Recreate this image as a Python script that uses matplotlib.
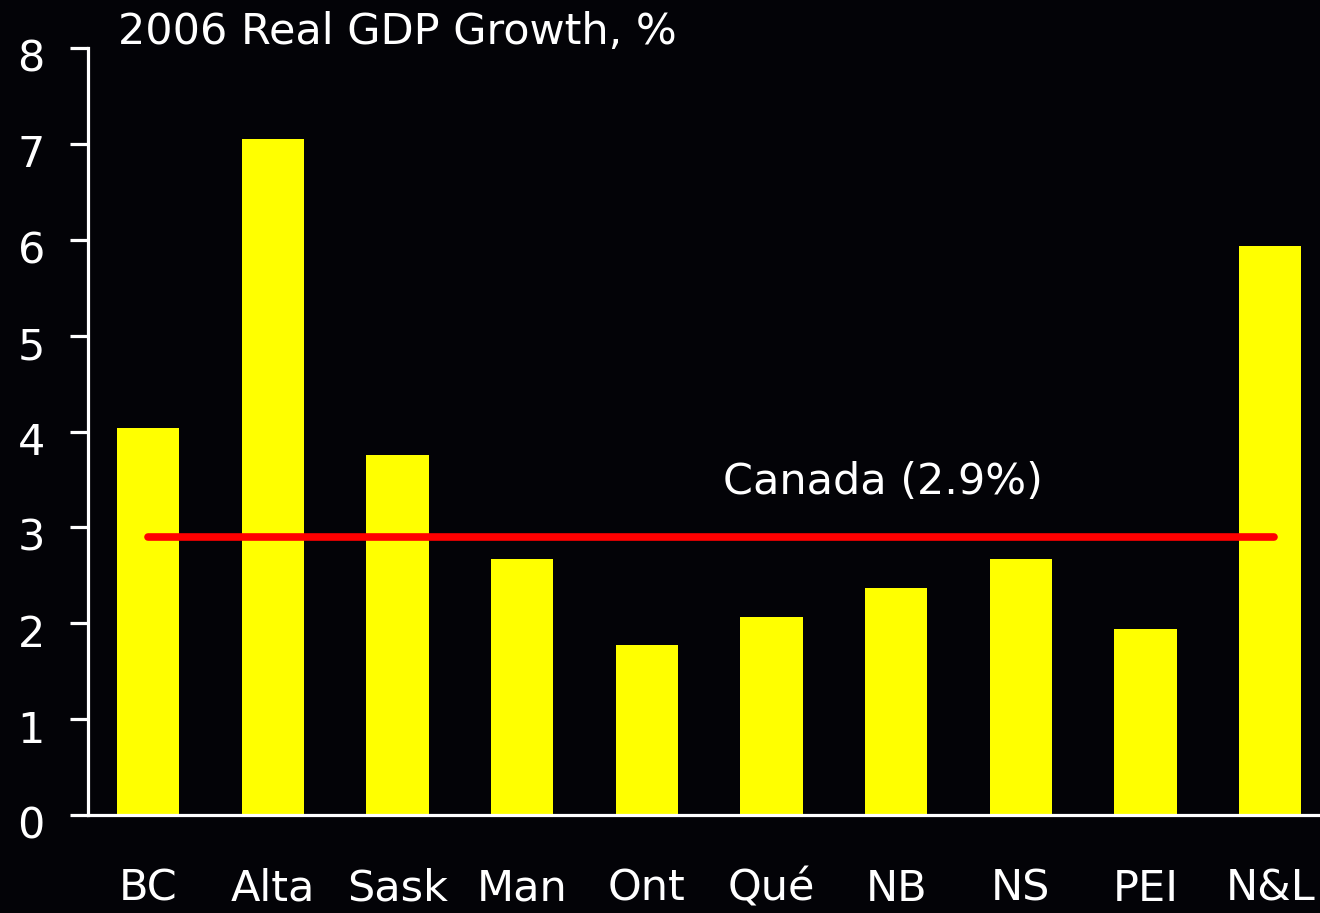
import numpy as np
import matplotlib.pyplot as plt
import matplotlib.transforms as mtransforms

# province labels and 2006 real GDP growth (%)
provinces = ['BC', 'Alta', 'Sask', 'Man', 'Ont', 'Qué', 'NB', 'NS', 'PEI', 'N&L']
growth = [4.04, 7.05, 3.75, 2.67, 1.77, 2.07, 2.37, 2.67, 1.94, 5.94]
canada = 2.9
yticks = [0, 1, 2, 3, 4, 5, 6, 7, 8]

bg = '#030307'
plt.rcParams['font.family'] = ['DejaVu Sans']

fig = plt.figure(figsize=(13.2, 9.13), dpi=100, facecolor=bg)
ax = fig.add_axes([88/1320, 1-815/913, 1-88/1320, (815-48)/913])
ax.set_facecolor(bg)

x = np.arange(len(provinces))
ax.bar(x, growth, width=0.5, color='#ffff00', zorder=2)
ax.hlines(canada, 0, 9.03, color='#ff0000', linewidth=5.5, capstyle='round', zorder=3)
ax.text(4.61, 3.47, 'Canada (2.9%)', color='white', fontsize=31, ha='left', va='center')

ax.set_xlim(-0.484, 9.40)
ax.set_ylim(0, 8)
ax.set_xticks(x)
ax.set_xticklabels(provinces)
ax.set_yticks(yticks)

for s in ['top', 'right']:
    ax.spines[s].set_visible(False)
for s in ['left', 'bottom']:
    ax.spines[s].set_color('white')
    ax.spines[s].set_linewidth(2.3)

ax.tick_params(axis='y', colors='white', labelsize=31, length=13, width=2.3, pad=18)
ax.tick_params(axis='x', colors='white', labelsize=31, length=0, pad=38)

# nudge y labels slightly down like the original
off = mtransforms.ScaledTranslation(0, -7/100, fig.dpi_scale_trans)
for lab in ax.get_yticklabels():
    lab.set_transform(lab.get_transform() + off)

fig.text(118/1320, 1-32/913, '2006 Real GDP Growth, %', color='white',
         fontsize=31, ha='left', va='center')

fig.savefig('out.png', dpi=100, facecolor=bg)
